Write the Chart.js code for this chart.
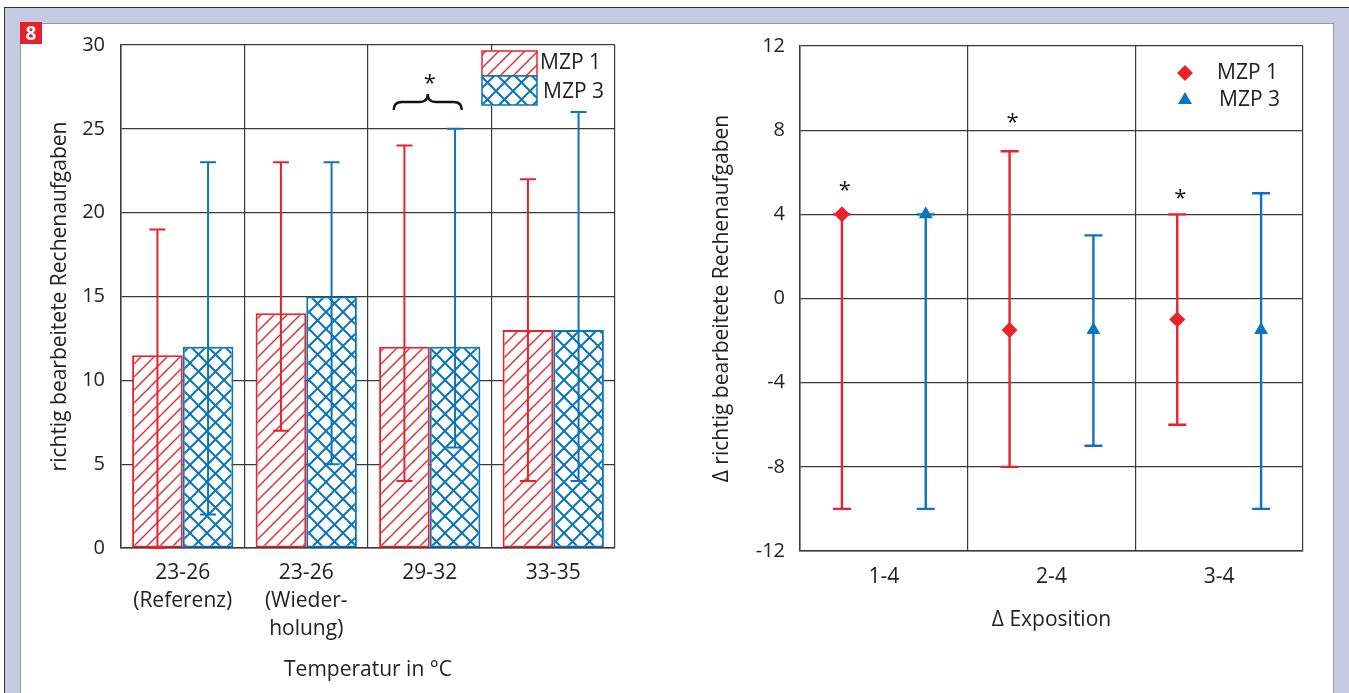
<!DOCTYPE html>
<html>
<head>
<meta charset="utf-8">
<script src="https://cdn.jsdelivr.net/npm/chart.js@4"></script>
<style>
  body { margin: 0; width: 1349px; height: 693px; overflow: hidden; position: relative; background: #fff; }
  #frame { position: absolute; left: 4px; top: 7px; right: 0; bottom: -20px; background: #c6cbe3;
           border-top: 1.5px solid #333; border-left: 1.5px solid #333; }
  #panel { position: absolute; left: 20px; top: 23px; width: 1314px; height: 700px; background: #fff;
           border: 1px solid #9a9a9a; box-sizing: border-box; }
  #badge { position: absolute; left: 20px; top: 22px; width: 22px; height: 22px; background: #e8202a;
           color: #fff; font: bold 19px "Open Sans", sans-serif; text-align: center; line-height: 22px; }
  canvas { position: absolute; }
  #left { left: 20px; top: 23px; }
  #right { left: 690px; top: 23px; }
</style>
</head>
<body>
<div id="frame"></div>
<div id="panel"></div>
<canvas id="left" width="650" height="670"></canvas>
<canvas id="right" width="644" height="670"></canvas>
<div id="badge">8</div>
<script>
// left chart: Temperatur
const tempLabels = [['23-26', '(Referenz)'], ['23-26', '(Wieder-', 'holung)'], ['29-32'], ['33-35']];
const mzp1Bars = [11.5, 14, 12, 13];
const mzp1Low = [0, 7, 4, 4];
const mzp1High = [19, 23, 24, 22];
const mzp3Bars = [12, 15, 12, 13];
const mzp3Low = [2, 5, 6, 4];
const mzp3High = [23, 23, 25, 26];
const leftTicks = [0, 5, 10, 15, 20, 25, 30];
const leftSig = { category: 2, brace: 26.6, star: 28 };

// right chart: Delta Exposition
const expoLabels = ['1-4', '2-4', '3-4'];
const mzp1Delta = [4, -1.5, -1];
const mzp1DeltaLow = [-10, -8, -6];
const mzp1DeltaHigh = [4, 7, 4];
const mzp3Delta = [4, -1.5, -1.5];
const mzp3DeltaLow = [-10, -7, -10];
const mzp3DeltaHigh = [4, 3, 5];
const rightTicks = [-12, -8, -4, 0, 4, 8, 12];
const rightStars = [5.35, 8.6, 5.0];

const RED = '#e8232c';
const BLUE = '#0a74bd';
const GRID = '#3a3a3a';
const FONT = '"Open Sans", sans-serif';

Chart.defaults.font.family = FONT;
Chart.defaults.color = '#222';

function hatch(color) {
  const c = document.createElement('canvas');
  c.width = 13; c.height = 13;
  const g = c.getContext('2d');
  g.fillStyle = '#fff'; g.fillRect(0, 0, 13, 13);
  g.strokeStyle = color; g.lineWidth = 1.4;
  g.beginPath();
  g.moveTo(-2, 15); g.lineTo(15, -2);
  g.moveTo(-2, 2); g.lineTo(2, -2);
  g.moveTo(11, 15); g.lineTo(15, 11);
  g.stroke();
  return g.createPattern(c, 'repeat');
}

function crossHatch(color) {
  const s = 17;
  const c = document.createElement('canvas');
  c.width = s; c.height = s;
  const g = c.getContext('2d');
  g.fillStyle = '#fff'; g.fillRect(0, 0, s, s);
  g.strokeStyle = color; g.lineWidth = 2;
  g.beginPath();
  g.moveTo(0, 0); g.lineTo(s, s);
  g.moveTo(s, 0); g.lineTo(0, s);
  g.stroke();
  return g.createPattern(c, 'repeat');
}

function drawErrors(chart, opts) {
  const ctx = chart.ctx, y = chart.scales.y;
  ctx.save();
  ctx.lineWidth = opts.width;
  opts.sets.forEach((s, d) => {
    chart.getDatasetMeta(d).data.forEach((el, i) => {
      const x = el.x, yl = y.getPixelForValue(s.lo[i]), yh = y.getPixelForValue(s.hi[i]);
      ctx.strokeStyle = s.color;
      ctx.beginPath();
      ctx.moveTo(x, yl); ctx.lineTo(x, yh);
      ctx.moveTo(x - opts.cap / 2, yh); ctx.lineTo(x + opts.cap / 2, yh);
      ctx.moveTo(x - opts.cap / 2, yl); ctx.lineTo(x + opts.cap / 2, yl);
      ctx.stroke();
    });
  });
  ctx.restore();
}

const errorBars = {
  id: 'errorBars',
  beforeDatasetsDraw(chart, args, opts) { if (opts.under) drawErrors(chart, opts); },
  afterDatasetsDraw(chart, args, opts) { if (!opts.under) drawErrors(chart, opts); }
};

// legend, brace and asterisk for the bar chart
const leftNotes = {
  id: 'leftNotes',
  afterDraw(chart) {
    const ctx = chart.ctx, ca = chart.chartArea, y = chart.scales.y;
    ctx.save();
    // legend
    const bx = ca.right - 133, by = ca.top + 6;
    ctx.fillStyle = '#fff';
    ctx.fillRect(bx - 1, by - 1, 130, 56);
    chart.data.datasets.forEach((ds, i) => {
      const top = by + i * 25;
      const h = i ? 29 : 25;
      ctx.fillStyle = ds.backgroundColor;
      ctx.fillRect(bx, top, 55, h);
      ctx.strokeStyle = ds.borderColor; ctx.lineWidth = 1.5;
      ctx.strokeRect(bx, top, 55, h);
      ctx.fillStyle = '#222';
      ctx.font = '21px ' + FONT;
      ctx.textBaseline = 'middle';
      ctx.fillText(ds.label, bx + 58 + i * 3, top + 12 + i * 4);
    });
    // brace
    const m0 = chart.getDatasetMeta(0).data[leftSig.category];
    const m1 = chart.getDatasetMeta(1).data[leftSig.category];
    const cx = (m0.x + m1.x) / 2 - 2, w = 68, h = 8;
    const y0 = y.getPixelForValue(leftSig.brace);
    ctx.strokeStyle = '#111'; ctx.lineWidth = 2.4;
    ctx.beginPath();
    ctx.moveTo(cx - w / 2, y0 + h);
    ctx.quadraticCurveTo(cx - w / 2, y0, cx - w / 2 + h, y0);
    ctx.lineTo(cx - h, y0);
    ctx.quadraticCurveTo(cx, y0, cx, y0 - h);
    ctx.quadraticCurveTo(cx, y0, cx + h, y0);
    ctx.lineTo(cx + w / 2 - h, y0);
    ctx.quadraticCurveTo(cx + w / 2, y0, cx + w / 2, y0 + h);
    ctx.stroke();
    ctx.fillStyle = '#111';
    ctx.font = '22px ' + FONT;
    ctx.textAlign = 'center';
    ctx.textBaseline = 'middle';
    ctx.fillText('*', cx + 2, y.getPixelForValue(leftSig.star) + 5);
    ctx.restore();
  }
};

const rightNotes = {
  id: 'rightNotes',
  afterDraw(chart) {
    const ctx = chart.ctx, ca = chart.chartArea, y = chart.scales.y;
    ctx.save();
    ctx.font = '21px ' + FONT;
    ctx.textBaseline = 'middle';
    chart.data.datasets.forEach((ds, i) => {
      const py = ca.top + 27 + i * 27;
      ctx.fillStyle = ds.pointBackgroundColor;
      Chart.helpers.drawPoint(ctx, { pointStyle: ds.pointStyle, radius: 8, borderWidth: 0 }, ca.right - 118, py);
      ctx.fillStyle = '#222';
      ctx.fillText(ds.label, ca.right - 86 + i * 2, py);
    });
    // asterisks above MZP 1
    ctx.fillStyle = '#111';
    ctx.font = '22px ' + FONT;
    ctx.textAlign = 'center';
    chart.getDatasetMeta(0).data.forEach((el, i) => {
      ctx.fillText('*', el.x + 3, y.getPixelForValue(rightStars[i]) + 5);
    });
    ctx.restore();
  }
};

new Chart(document.getElementById('left'), {
  type: 'bar',
  data: {
    labels: tempLabels,
    datasets: [
      { label: 'MZP 1', data: mzp1Bars, backgroundColor: hatch(RED), borderColor: RED, borderWidth: 2, borderSkipped: false },
      { label: 'MZP 3', data: mzp3Bars, backgroundColor: crossHatch(BLUE), borderColor: BLUE, borderWidth: 2, borderSkipped: false }
    ]
  },
  options: {
    responsive: false,
    animation: false,
    categoryPercentage: 0.82,
    barPercentage: 1,
    layout: { padding: { top: 22, right: 55, left: 0, bottom: 0 } },
    plugins: {
      legend: { display: false },
      tooltip: { enabled: false },
      errorBars: {
        under: false, width: 2, cap: 16,
        sets: [{ lo: mzp1Low, hi: mzp1High, color: RED }, { lo: mzp3Low, hi: mzp3High, color: BLUE }]
      }
    },
    scales: {
      x: {
        grid: { color: GRID, lineWidth: 1.2, drawTicks: false, offset: true },
        border: { color: GRID, width: 1.5 },
        ticks: { font: { size: 21, lineHeight: 1.33 }, padding: 11, color: '#222', maxRotation: 0 },
        title: { display: true, text: 'Temperatur in °C', font: { size: 21 }, color: '#222', padding: { top: 0, bottom: 10 } },
        afterFit(s) { s.height = 145; }
      },
      y: {
        min: 0, max: 30,
        afterBuildTicks(s) { s.ticks = leftTicks.map(v => ({ value: v })); },
        grid: { color: GRID, lineWidth: 1.2, drawTicks: false },
        border: { color: GRID, width: 1.5 },
        ticks: { font: { size: 20 }, padding: 16, color: '#222' },
        title: { display: true, text: 'richtig bearbeitete Rechenaufgaben', font: { size: 21 }, color: '#222', padding: { top: 27, bottom: 0 } },
        afterFit(s) { s.width = 101; s.paddingTop = 0; s.paddingBottom = 0; }
      }
    }
  },
  plugins: [errorBars, leftNotes]
});

new Chart(document.getElementById('right'), {
  type: 'scatter',
  data: {
    datasets: [
      { label: 'MZP 1', data: expoLabels.map((c, i) => ({ x: i + 0.25, y: mzp1Delta[i] })),
        pointStyle: 'rectRot', pointRadius: 8, pointBackgroundColor: RED, pointBorderWidth: 0 },
      { label: 'MZP 3', data: expoLabels.map((c, i) => ({ x: i + 0.75, y: mzp3Delta[i] })),
        pointStyle: 'triangle', pointRadius: 8, pointBackgroundColor: BLUE, pointBorderWidth: 0 }
    ]
  },
  options: {
    responsive: false,
    animation: false,
    layout: { padding: { top: 23, right: 31, left: 0, bottom: 0 } },
    plugins: {
      legend: { display: false },
      tooltip: { enabled: false },
      errorBars: {
        under: true, width: 2.4, cap: 18,
        sets: [{ lo: mzp1DeltaLow, hi: mzp1DeltaHigh, color: RED }, { lo: mzp3DeltaLow, hi: mzp3DeltaHigh, color: BLUE }]
      }
    },
    scales: {
      x: {
        type: 'linear', min: 0, max: expoLabels.length,
        afterBuildTicks(s) {
          const t = [];
          for (let v = 0; v <= expoLabels.length; v += 0.5) t.push({ value: v });
          s.ticks = t;
        },
        grid: { color: c => Number.isInteger(c.tick.value) ? GRID : 'rgba(0,0,0,0)', lineWidth: 1.2, drawTicks: false },
        border: { color: GRID, width: 1.5 },
        ticks: {
          autoSkip: false, maxRotation: 0, font: { size: 21 }, padding: 13, color: '#222',
          callback: v => Number.isInteger(v) ? '' : expoLabels[Math.floor(v)]
        },
        title: { display: true, text: 'Δ Exposition', font: { size: 21 }, color: '#222', padding: { top: 0, bottom: 60 } },
        afterFit(s) { s.height = 142; }
      },
      y: {
        min: -12, max: 12,
        afterBuildTicks(s) { s.ticks = rightTicks.map(v => ({ value: v })); },
        grid: { color: GRID, lineWidth: 1.2, drawTicks: false },
        border: { color: GRID, width: 1.5 },
        ticks: { font: { size: 20 }, padding: 15, color: '#222' },
        title: { display: true, text: 'Δ richtig bearbeitete Rechenaufgaben', font: { size: 21 }, color: '#222', padding: { top: 19, bottom: 0 } },
        afterFit(s) { s.width = 110; s.paddingTop = 0; s.paddingBottom = 0; }
      }
    }
  },
  plugins: [errorBars, rightNotes]
});
</script>
</body>
</html>
